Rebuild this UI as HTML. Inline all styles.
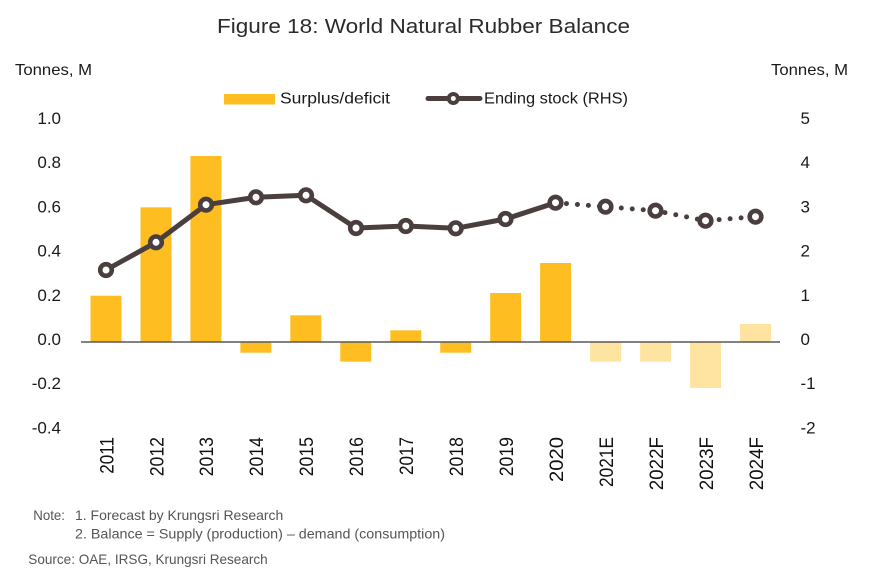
<!DOCTYPE html>
<html><head><meta charset="utf-8"><style>
html,body{margin:0;padding:0;background:#fff;}
svg{display:block;}
text{font-family:"Liberation Sans",sans-serif;}
</style></head><body>
<svg width="870" height="588" viewBox="0 0 870 588" xmlns="http://www.w3.org/2000/svg">
<rect width="870" height="588" fill="#fff"/>
<!-- title -->
<text x="217" y="33" font-size="20" fill="#2b2b2b" textLength="413" lengthAdjust="spacingAndGlyphs">Figure 18: World Natural Rubber Balance</text>
<!-- axis titles -->
<text x="15" y="75" font-size="16" fill="#1a1a1a" textLength="77" lengthAdjust="spacingAndGlyphs">Tonnes, M</text>
<text x="771" y="75" font-size="16" fill="#1a1a1a" textLength="77" lengthAdjust="spacingAndGlyphs">Tonnes, M</text>
<!-- legend -->
<rect x="224" y="94" width="51" height="10.5" fill="#FEBE22"/>
<text x="280" y="103.5" font-size="16" fill="#1a1a1a" textLength="110" lengthAdjust="spacingAndGlyphs">Surplus/deficit</text>
<line x1="428" y1="98.5" x2="480" y2="98.5" stroke="#4A3F3E" stroke-width="5" stroke-linecap="round"/>
<circle cx="453.3" cy="98.5" r="4.5" fill="#fff" stroke="#4A3F3E" stroke-width="4"/>
<text x="484" y="103.5" font-size="16" fill="#1a1a1a" textLength="144" lengthAdjust="spacingAndGlyphs">Ending stock (RHS)</text>
<!-- left tick labels -->
<g font-size="17" fill="#1a1a1a" text-anchor="end">
<text x="61" y="124">1.0</text>
<text x="61" y="168.2">0.8</text>
<text x="61" y="212.4">0.6</text>
<text x="61" y="256.6">0.4</text>
<text x="61" y="300.8">0.2</text>
<text x="61" y="345">0.0</text>
<text x="61" y="389.2">-0.2</text>
<text x="61" y="433.4">-0.4</text>
</g>
<!-- right tick labels -->
<g font-size="17" fill="#1a1a1a">
<text x="800.5" y="124">5</text>
<text x="800.5" y="168.2">4</text>
<text x="800.5" y="212.4">3</text>
<text x="800.5" y="256.6">2</text>
<text x="800.5" y="300.8">1</text>
<text x="800.5" y="345">0</text>
<text x="800.5" y="389.2">-1</text>
<text x="800.5" y="433.4">-2</text>
</g>
<!-- bars -->
<g fill="#FEBE22">
<rect x="90.5" y="295.7" width="31" height="46.3"/>
<rect x="140.5" y="207.3" width="31" height="134.7"/>
<rect x="190.4" y="156" width="31" height="186"/>
<rect x="240.4" y="342" width="31" height="10.7"/>
<rect x="290.3" y="315.3" width="31" height="26.7"/>
<rect x="340.3" y="342" width="31" height="19.7"/>
<rect x="390.3" y="330.3" width="31" height="11.7"/>
<rect x="440.2" y="342" width="31" height="10.7"/>
<rect x="490.2" y="293" width="31" height="49"/>
<rect x="540.1" y="263" width="31" height="79"/>
</g>
<g fill="#FFE3A1">
<rect x="590.1" y="342" width="31" height="19.7"/>
<rect x="640.1" y="342" width="31" height="19.7"/>
<rect x="690" y="342" width="31" height="46"/>
<rect x="740" y="324" width="31" height="18"/>
</g>
<!-- zero line -->
<line x1="81" y1="342" x2="780" y2="342" stroke="#595959" stroke-width="1.5"/>
<!-- line series -->
<polyline points="106,270 156,242.3 206,204.7 256,197.3 306,195.3 356,228 405.8,226 455.7,228.3 505.5,219 555.5,202.7" fill="none" stroke="#4A3F3E" stroke-width="5" stroke-linejoin="round"/>
<polyline points="555.5,202.7 605.5,206.7 655.5,210.7 705.5,220.7 755.5,216.7" fill="none" stroke="#4A3F3E" stroke-width="5" stroke-linecap="round" stroke-dasharray="0 11"/>
<g fill="#fff" stroke="#4A3F3E" stroke-width="4.6">
<circle cx="106" cy="270" r="5.8"/>
<circle cx="156" cy="242.3" r="5.8"/>
<circle cx="206" cy="204.7" r="5.8"/>
<circle cx="256" cy="197.3" r="5.8"/>
<circle cx="306" cy="195.3" r="5.8"/>
<circle cx="356" cy="228" r="5.8"/>
<circle cx="405.8" cy="226" r="5.8"/>
<circle cx="455.7" cy="228.3" r="5.8"/>
<circle cx="505.5" cy="219" r="5.8"/>
<circle cx="555.5" cy="202.7" r="5.8"/>
<circle cx="605.5" cy="206.7" r="5.8"/>
<circle cx="655.5" cy="210.7" r="5.8"/>
<circle cx="705.5" cy="220.7" r="5.8"/>
<circle cx="755.5" cy="216.7" r="5.8"/>
</g>
<!-- x labels -->
<g font-size="19" fill="#111" text-anchor="end">
<text transform="translate(113.3,437) rotate(-90)" textLength="36.7" lengthAdjust="spacingAndGlyphs">2011</text>
<text transform="translate(163.3,437) rotate(-90)" textLength="39.3" lengthAdjust="spacingAndGlyphs">2012</text>
<text transform="translate(213.2,437) rotate(-90)" textLength="39.3" lengthAdjust="spacingAndGlyphs">2013</text>
<text transform="translate(263.2,437) rotate(-90)" textLength="39.3" lengthAdjust="spacingAndGlyphs">2014</text>
<text transform="translate(313.1,437) rotate(-90)" textLength="39.3" lengthAdjust="spacingAndGlyphs">2015</text>
<text transform="translate(363.1,437) rotate(-90)" textLength="39.3" lengthAdjust="spacingAndGlyphs">2016</text>
<text transform="translate(413.1,437) rotate(-90)" textLength="38" lengthAdjust="spacingAndGlyphs">2017</text>
<text transform="translate(463,437) rotate(-90)" textLength="39.3" lengthAdjust="spacingAndGlyphs">2018</text>
<text transform="translate(513,437) rotate(-90)" textLength="39.3" lengthAdjust="spacingAndGlyphs">2019</text>
<text transform="translate(562.9,437) rotate(-90)" textLength="45" lengthAdjust="spacingAndGlyphs">2020</text>
<text transform="translate(612.9,437) rotate(-90)" textLength="50" lengthAdjust="spacingAndGlyphs">2021E</text>
<text transform="translate(662.9,437) rotate(-90)" textLength="53.3" lengthAdjust="spacingAndGlyphs">2022F</text>
<text transform="translate(712.8,437) rotate(-90)" textLength="53.3" lengthAdjust="spacingAndGlyphs">2023F</text>
<text transform="translate(762.8,437) rotate(-90)" textLength="53.3" lengthAdjust="spacingAndGlyphs">2024F</text>
</g>
<!-- notes -->
<g font-size="14" fill="#555">
<text x="33.3" y="520" textLength="31.7" lengthAdjust="spacingAndGlyphs">Note:</text>
<text x="75" y="520" textLength="208.3" lengthAdjust="spacingAndGlyphs">1. Forecast by Krungsri Research</text>
<text x="75" y="538.5" textLength="370" lengthAdjust="spacingAndGlyphs">2. Balance = Supply (production) – demand (consumption)</text>
<text x="28.3" y="564" textLength="239.4" lengthAdjust="spacingAndGlyphs">Source: OAE, IRSG, Krungsri Research</text>
</g>
</svg>
</body></html>
